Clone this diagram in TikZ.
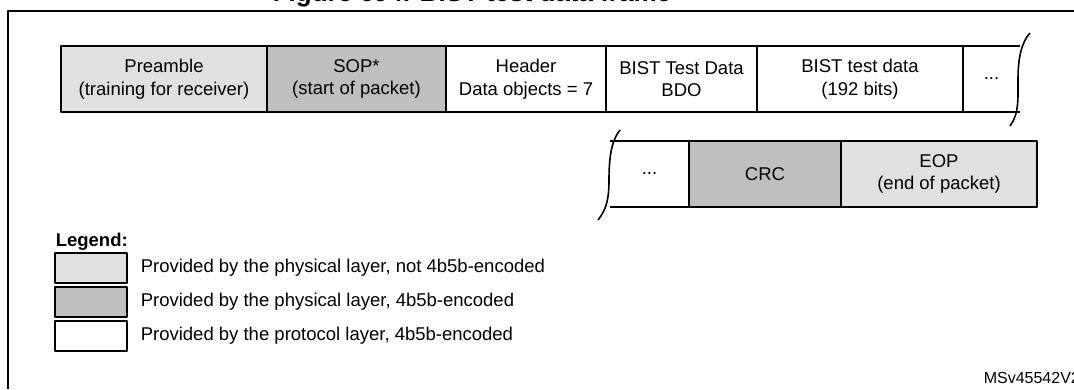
\documentclass[tikz,border=0pt]{standalone}
\usepackage{fontspec}
\setmainfont{Liberation Sans}
\usetikzlibrary{positioning}
\definecolor{lightfill}{gray}{0.88}
\definecolor{darkfill}{gray}{0.75}
\begin{document}
\begin{tikzpicture}[x=1pt,y=-1pt,line width=1.6pt,line join=round,
  font=\fontsize{18.5}{22.5}\selectfont,
  field/.style={draw,outer sep=0pt,inner sep=0pt,minimum height=66pt,align=center},
  phys/.style={field,fill=lightfill},
  enc/.style={field,fill=darkfill},
  legbox/.style={draw,outer sep=0pt,minimum width=72pt,minimum height=30pt}]
  \useasboundingbox (0,0) rectangle (1074,389);
  % frame and title
  \draw[line width=2.6pt] (8,389)--(8,11)--(1074,11);
  \node[anchor=base,inner sep=0pt,font=\fontsize{26}{30}\selectfont\bfseries]
    (title) at (472,1.5) {Figure 694. BIST test data frame};
  % first row
  \node[phys,minimum width=206pt,anchor=north west] (preamble) at (61,46)
    {Preamble\\(training for receiver)};
  \node[enc,minimum width=179pt,right=0pt of preamble] (sop) {SOP*\\(start of packet)};
  \node[field,minimum width=160pt,right=0pt of sop] (header) {Header\\Data objects = 7};
  \node[field,minimum width=151pt,right=0pt of header] (bdo) {BIST Test Data\\BDO};
  \node[field,minimum width=206pt,right=0pt of bdo] (bits) {BIST test data\\(192 bits)};
  \node[field,draw=none,minimum width=57pt,right=0pt of bits] (more) {...};
  \draw (bits.north east)--(more.north east) (bits.south east)--(more.south east);
  \draw (1010,126) .. controls (1019,114) and (1018,100) .. (1018,80)
    .. controls (1018,56) and (1022,42) .. (1030,33);
  % second row
  \node[field,draw=none,minimum width=79pt,anchor=north west] (rest) at (610,141) {...};
  \node[enc,minimum width=152pt,right=0pt of rest] (crc) {CRC};
  \node[phys,minimum width=196pt,right=0pt of crc] (eop) {EOP\\(end of packet)};
  \draw (rest.north west)--(crc.north west) (rest.south west)--(crc.south west);
  \draw (598,220) .. controls (606,210) and (609,200) .. (609,180)
    .. controls (609,155) and (612,140) .. (620,130);
  % legend
  \node[anchor=base west,inner sep=0pt,font=\fontsize{18.5}{22.5}\selectfont\bfseries]
    (legend) at (55,246) {Legend:};
  \node[legbox,fill=lightfill,anchor=north west] (leg1) at (55,253) {};
  \node[legbox,fill=darkfill,below=4pt of leg1] (leg2) {};
  \node[legbox,below=4pt of leg2] (leg3) {};
  \node[right=13pt of leg1,inner sep=0pt] (txt1) {Provided by the physical layer, not 4b5b-encoded};
  \node[right=13pt of leg2,inner sep=0pt] (txt2) {Provided by the physical layer, 4b5b-encoded};
  \node[right=13pt of leg3,inner sep=0pt] (txt3) {Provided by the protocol layer, 4b5b-encoded};
  \node[anchor=base west,inner sep=0pt,font=\fontsize{16}{18}\selectfont]
    (ref) at (983,383) {MSv45542V2};
\end{tikzpicture}
\end{document}
